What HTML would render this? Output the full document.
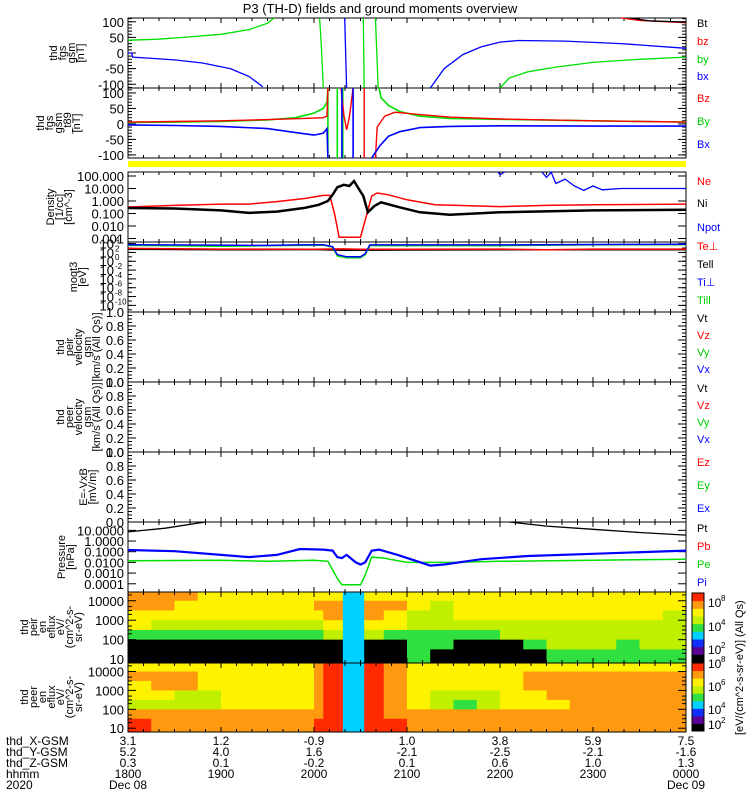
<!DOCTYPE html>
<html><head><meta charset="utf-8">
<style>
html,body{margin:0;padding:0;background:#fff;}
svg{display:block;font-family:"Liberation Sans",sans-serif;}
</style></head>
<body>
<svg id="chart" width="750" height="800" viewBox="0 0 750 800"></svg>
<script>
// ---------- DATA ----------
const hourTicks = [18,19,20,21,22,23,24];
const xgsmLabels = ["3.1","1.2","-0.9","1.0","3.8","5.9","7.5"];
const ygsmLabels = ["5.2","4.0","1.6","-2.1","-2.5","-2.1","-1.6"];
const zgsmLabels = ["0.3","0.1","-0.2","0.1","0.6","1.0","1.3"];
const hhmmLabels = ["1800","1900","2000","2100","2200","2300","0000"];
// panel 1 fgs gsm [nT]
const fgsBy = [[[18,41],[18.3,44],[18.6,50],[19,60],[19.3,75],[19.5,95],[19.57,112]],[[20.06,112],[20.08,20],[20.1,-112]],[[20.53,112],[20.54,-112]],[[20.66,112],[20.69,-112]],[[22.0,-112],[22.1,-80],[22.3,-60],[22.6,-45],[23,-30],[23.5,-20],[24,-13]]];
const fgsBx = [[[18,0],[18.04,0],[18.05,-13],[18.5,-22],[18.8,-32],[19.1,-50],[19.3,-75],[19.45,-108]],[[20.33,112],[20.35,-112]],[[21.25,-112],[21.4,-50],[21.6,-5],[21.8,20],[22.0,35],[22.2,40],[22.7,38],[23.3,30],[24,15]]];
const fgsBz = [[[23.3,112],[23.5,104],[24,97]]];
const fgsBt = [[[23.4,112],[23.6,103],[24,99]]];
// panel 2 fgs-t89 [nT]
const t89By = [[[18,5],[18.5,6],[19,8],[19.5,13],[19.8,20],[20.0,35],[20.1,50],[20.14,70],[20.15,116],[20.15,-110]],[[20.25,-110],[20.25,116]],[[20.31,-110],[20.31,116]],[[20.70,116],[20.72,85],[20.8,60],[20.92,40],[21.14,25],[21.46,18],[22,15],[23,10],[24,6]]];
const t89Bz = [[[18,6],[18.5,8],[19,10],[19.5,14],[19.9,18],[20.1,20],[20.14,25],[20.15,116]],[[20.29,116],[20.32,30],[20.35,-19],[20.38,20],[20.42,116]],[[20.54,116],[20.54,-110]],[[20.66,-110],[20.68,-10],[20.76,25],[20.87,38],[21.14,30],[21.46,22],[22,16],[23,10],[24,6]]];
const t89Bx = [[[18,-3],[18.5,-5],[19,-8],[19.5,-15],[19.8,-28],[20.0,-36],[20.1,-30],[20.14,-15],[20.15,-110]],[[20.30,116],[20.30,-110]],[[20.42,116],[20.42,-110]],[[20.62,-110],[20.71,-70],[20.8,-40],[20.92,-25],[21.14,-12],[21.46,-8],[22,-6],[23,-7],[24,-7]]];
// density log10 [cm^-3]
const densNi = [[[18,-0.56],[18.5,-0.6],[19,-0.75],[19.3,-0.95],[19.6,-0.85],[19.9,-0.55],[20.05,-0.3],[20.15,0.0],[20.2,0.5],[20.25,1.1],[20.32,1.3],[20.38,1.2],[20.43,1.6],[20.48,1.0],[20.53,0.4],[20.58,-0.9],[20.65,-0.4],[20.72,-0.1],[20.92,-0.5],[21.14,-0.9],[21.46,-1.1],[22,-0.9],[23,-0.75],[24,-0.7]]];
const densNe = [[[18,-0.48],[18.5,-0.35],[19,-0.25],[19.3,-0.25],[19.6,-0.05],[19.9,0.2],[20.1,0.45],[20.17,0.45],[20.22,-1],[20.27,-2.9],[20.5,-2.9],[20.57,-1],[20.62,0.4],[20.68,0.64],[20.8,0.5],[21,0.1],[21.3,-0.3],[22,-0.45],[22.5,-0.35],[23,-0.3],[24,-0.25]]];
const densNpot = [[[21.98,2.32],[22.0,2.1],[22.05,2.32]],[[22.45,2.32],[22.5,1.9],[22.55,2.3],[22.6,1.4],[22.7,1.75],[22.8,1.2],[22.9,0.85],[23.0,1.2],[23.1,0.9],[23.3,1.0],[24,1.0]]];
// temperature log10 [eV]
const tempTiPerp = [[[18,3.75],[19,3.65],[19.5,3.6],[19.8,3.7],[20.1,3.75],[20.2,3.3],[20.25,1.5],[20.35,1.0],[20.5,1.0],[20.55,1.7],[20.6,3.7],[22,3.7],[23,3.8],[24,3.85]]];
const tempTiPar = [[[18,3.6],[19,3.4],[19.5,3.5],[20.1,3.65],[20.2,3.2],[20.25,1.2],[20.35,0.8],[20.5,0.8],[20.55,1.5],[20.6,3.55],[22,3.55],[23,3.7],[24,3.75]]];
const tempTePerp = [[[18,2.9],[19,2.75],[20,2.7],[20.3,2.8],[20.5,2.7],[21,2.7],[22,2.75],[22.5,2.6],[23,2.75],[24,2.75]]];
const tempTePar = [[[18,2.7],[19,2.6],[20,2.65],[20.3,2.5],[21,2.55],[22,2.6],[24,2.6]]];
// pressure log10 [nPa]
const presPt = [[[18,0.85],[18.4,1.2],[18.83,1.78]],[[22.1,1.78],[22.5,1.4],[23,1.1],[23.5,0.8],[24,0.55]]];
const presPi = [[[18,-0.84],[18.5,-0.95],[19,-1.3],[19.3,-1.5],[19.6,-1.3],[19.85,-0.75],[20.1,-0.8],[20.2,-0.9],[20.25,-1.5],[20.3,-1.6],[20.35,-1.3],[20.45,-2],[20.5,-2.2],[20.55,-2.0],[20.62,-0.9],[20.7,-0.8],[20.9,-1.3],[21.25,-2.3],[21.4,-2.2],[21.8,-1.7],[22.3,-1.4],[23,-1.2],[24,-0.9]]];
const presPe = [[[18,-1.85],[19,-1.8],[19.5,-1.9],[20,-1.8],[20.15,-1.9],[20.25,-3.5],[20.3,-4.1],[20.5,-4.1],[20.55,-3.2],[20.62,-1.5],[20.75,-1.6],[21,-2.0],[21.5,-2.0],[22,-1.9],[23,-1.8],[24,-1.7]]];
// spectrograms: time bin edges (hours), energy row edges (log10 eV), levels 0..8
const specTimeEdges = [18,18.25,18.5,18.75,19,19.25,19.5,19.75,20,20.1,20.31,20.54,20.75,21,21.25,21.5,21.75,22,22.25,22.5,22.75,23,23.25,23.5,23.75,24];
const specEnergyEdges = [4.45,4,3.5,3,2.5,2,1.5,0.8];
const ionSpec = [
 [7,7,7,6,6,6,6,6,6,6,3,6,6,6,6,6,6,6,6,6,6,6,6,6,6],
 [7,7,6,6,6,6,6,6,7,7,3,7,7,6,5,6,6,6,6,6,6,6,6,6,6],
 [6,6,6,6,6,6,6,6,6,7,3,7,6,5,5,6,6,6,6,6,6,6,6,6,5],
 [6,5,5,5,5,5,5,5,5,6,3,6,6,5,5,5,5,5,5,5,5,5,5,5,5],
 [4,4,4,4,4,4,4,4,4,5,3,5,4,4,4,4,4,5,5,5,5,5,5,5,5],
 [0,0,0,0,0,0,0,0,0,0,3,0,0,4,4,0,0,0,4,5,5,5,4,5,5],
 [0,0,0,0,0,0,0,0,0,0,3,0,0,4,0,0,0,0,0,4,4,4,4,4,4]];
const eleSpec = [
 [6,6,6,6,6,6,6,6,7,8,3,8,7,6,6,6,6,6,6,6,6,6,6,6,6],
 [7,7,7,6,6,6,6,6,7,8,3,8,7,6,6,6,6,6,7,7,7,7,7,7,7],
 [6,7,7,6,6,6,6,6,7,8,3,8,7,6,6,6,6,6,7,7,7,7,7,7,7],
 [6,6,5,5,6,6,6,6,7,8,3,8,7,6,5,5,5,6,6,7,7,7,7,7,7],
 [5,5,5,5,6,6,6,6,7,8,3,8,7,6,5,4,5,6,6,6,7,7,7,7,7],
 [7,7,7,7,7,7,7,7,7,8,3,8,7,7,7,7,7,7,7,7,7,7,7,7,7],
 [8,7,7,7,7,7,7,7,8,8,3,8,8,7,7,7,7,7,7,7,7,7,7,7,7]];
const levelColors = ["#000000","#5a0096","#1030ff","#00d0ff","#30e040","#c0f000","#fff200","#ff9a10","#ff2a00"];

// ---------- HELPERS ----------
const NS="http://www.w3.org/2000/svg";
const svg=document.getElementById('chart');
const X0=128,X1=686;
function xs(h){return X0+(h-18)*(X1-X0)/6;}
function mk(tag,attrs,parent){const e=document.createElementNS(NS,tag);for(const k in attrs)e.setAttribute(k,attrs[k]);(parent||svg).appendChild(e);return e;}
function txt(x,y,s,attrs,parent){const t=mk('text',Object.assign({x:x,y:y,'font-size':12},attrs||{}),parent);t.textContent=s;return t;}
function lin(y0,y1,d0,d1){return v=>y0+(v-d0)*(y1-y0)/(d1-d0);}

const panels=[
 {name:'fgs-panel',top:18,bot:88},
 {name:'fgs-t89-panel',top:88,bot:158},
 {name:'density-panel',top:172,bot:242},
 {name:'temperature-panel',top:242,bot:312},
 {name:'ion-velocity-panel',top:312,bot:382},
 {name:'electron-velocity-panel',top:382,bot:452},
 {name:'efield-panel',top:452,bot:522},
 {name:'pressure-panel',top:522,bot:592},
 {name:'ion-spectrogram-panel',top:592,bot:663},
 {name:'electron-spectrogram-panel',top:663,bot:732}];

let t=txt(380,13,"P3 (TH-D) fields and ground moments overview",{'text-anchor':'middle','font-size':13});



let yb=mk('rect',{x:X0,y:161,width:X1-X0,height:6,fill:'#ffff00'});



function drawSpec(mat,ymap,name){
  const g=mk('g',{});
  
  
  for(let r=0;r<mat.length;r++){
    for(let c=0;c<mat[r].length;c++){
      const xa=xs(specTimeEdges[c]),xb=xs(specTimeEdges[c+1]);
      const ya=ymap(specEnergyEdges[r]),yb2=ymap(specEnergyEdges[r+1]);
      const rc=mk('rect',{x:xa,y:ya,width:xb-xa+0.5,height:yb2-ya+0.5,fill:levelColors[mat[r][c]]},g);
      
      
    }
  }
}
const ionY=lin(592,663,4.45,0.8), eleY=lin(663,732,4.45,0.8);
drawSpec(ionSpec,v=>Math.max(592,Math.min(663,ionY(v))),'ion-spectrogram');
drawSpec(eleSpec,v=>Math.max(663,Math.min(732,eleY(v))),'electron-spectrogram');

panels.forEach(p=>{
  const r=mk('rect',{x:X0,y:p.top,width:X1-X0,height:p.bot-p.top,fill:'none',stroke:'#000','stroke-width':1});
  
  
  for(let m=0;m<=36;m++){
    const x=xs(18+m/6), L=(m%6===0)?5:3;
    mk('line',{x1:x,y1:p.top,x2:x,y2:p.top+L,stroke:'#000'});
    mk('line',{x1:x,y1:p.bot,x2:x,y2:p.bot-L,stroke:'#000'});
  }
});

function yTicks(p,ys,labels,minor){
  ys.forEach((y,i)=>{
    mk('line',{x1:X0,y1:y,x2:X0+8,y2:y,stroke:'#000'});
    mk('line',{x1:X1,y1:y,x2:X1-8,y2:y,stroke:'#000'});
    const l=txt(124,y+5,labels[i],{'text-anchor':'end','font-size':13});
    
    
  });
  (minor||[]).forEach(y=>{
    mk('line',{x1:X0,y1:y,x2:X0+4,y2:y,stroke:'#000'});
    mk('line',{x1:X1,y1:y,x2:X1-4,y2:y,stroke:'#000'});
  });
}
function range(a,b,s){const r=[];for(let v=a;v<=b+1e-9;v+=s)r.push(v);return r;}

const y1=lin(18,88,112,-112);
yTicks(0,[100,50,0,-50,-100].map(y1),["100","50","0","-50","-100"],range(-110,110,10).map(y1));
const y2=lin(88,158,116,-110);
yTicks(1,[100,50,0,-50,-100].map(y2),["100","50","0","-50","-100"],range(-110,110,10).map(y2));
const y3=lin(172,242,2.32,-3.28);
yTicks(2,[2,1,0,-1,-2,-3].map(y3),["100.000","10.000","1.000","0.100","0.010","0.001"]);
const y4=lin(242,312,4.36,-11.5);
[4,2,0,-2,-4,-6,-8,-10].forEach(e=>{
  const y=y4(e);
  mk('line',{x1:X0,y1:y,x2:X0+8,y2:y,stroke:'#000'});
  mk('line',{x1:X1,y1:y,x2:X1-8,y2:y,stroke:'#000'});
  const l=txt(114,y+5,"10",{'text-anchor':'end','font-size':13});
  
  
  const s=txt(115,y-1,String(e),{'font-size':8});
  
  
});
range(-11,4,1).forEach(e=>{const y=y4(e);mk('line',{x1:X0,y1:y,x2:X0+4,y2:y,stroke:'#000'});mk('line',{x1:X1,y1:y,x2:X1-4,y2:y,stroke:'#000'});});
[[312,382],[382,452],[452,522]].forEach(([a,b])=>{
  const yv=lin(a,b,1,0);
  yTicks(0,[1,0.8,0.6,0.4,0.2,0].map(yv),["1.0","0.8","0.6","0.4","0.2","0.0"],range(0,1,0.05).map(yv));
});
const y8=lin(522,592,1.78,-4.77);
yTicks(0,[1,0,-1,-2,-3,-4].map(y8),["10.0000","1.0000","0.1000","0.0100","0.0010","0.0001"]);
yTicks(0,[4,3,2,1].map(ionY),["10000","1000","100","10"],[4.3,3.7,3.5,3.3,2.7,2.5,2.3,1.7,1.5,1.3].map(ionY));
yTicks(0,[4,3,2,1].map(eleY),["10000","1000","100","10"],[4.3,3.7,3.5,3.3,2.7,2.5,2.3,1.7,1.5,1.3].map(eleY));

function series(segs,ymap,top,bot,color,name,w){
  const g=mk('g',{});
  
  
  segs.forEach(seg=>{
    const pts=seg.map(([h,v])=>xs(h).toFixed(1)+','+Math.max(top,Math.min(bot,ymap(v))).toFixed(1)).join(' ');
    const pl=mk('polyline',{points:pts,fill:'none',stroke:color,'stroke-width':w||1.3},g);
    
    
  });
}
series(fgsBy,y1,18,88,'#00e000','fgs-by');
series(fgsBx,y1,18,88,'#0000ff','fgs-bx');
series(fgsBz,y1,18,88,'#ff0000','fgs-bz');
series(fgsBt,y1,18,88,'#000000','fgs-bt');
series(t89By,y2,88,158,'#00e000','t89-by',1.6);
series(t89Bz,y2,88,158,'#ff0000','t89-bz',1.4);
series(t89Bx,y2,88,158,'#0000ff','t89-bx',1.6);
series(densNpot,y3,172,242,'#0000ff','density-npot');
series(densNe,y3,172,242,'#ff0000','density-ne',1.5);
series(densNi,y3,172,242,'#000000','density-ni',2.5);
series(tempTePar,y4,242,312,'#000000','temp-tepar',1.5);
series(tempTePerp,y4,242,312,'#ff0000','temp-teperp',1.5);
series(tempTiPar,y4,242,312,'#00e000','temp-tipar',1.5);
series(tempTiPerp,y4,242,312,'#0000ff','temp-tiperp',1.5);
series(presPt,y8,522,592,'#000000','pressure-pt',1.3);
series(presPe,y8,522,592,'#00e000','pressure-pe',1.5);
series(presPi,y8,522,592,'#0000ff','pressure-pi',2.2);

const legends=[["Bt","#000",23],["bz","#f00",41],["by","#0c0",59],["bx","#00f",76],
["Bz","#f00",98],["By","#0c0",121],["Bx","#00f",144],
["Ne","#f00",181],["Ni","#000",203],["Npot","#00f",227],
["Te⊥","#f00",246],["Tell","#000",264],["Ti⊥","#00f",282],["Till","#0c0",300],
["Vt","#000",318],["Vz","#f00",335],["Vy","#0c0",352],["Vx","#00f",369],
["Vt","#000",388],["Vz","#f00",405],["Vy","#0c0",422],["Vx","#00f",439],
["Ez","#f00",462],["Ey","#0c0",485],["Ex","#00f",508],
["Pt","#000",528],["Pb","#f00",546],["Pe","#0c0",564],["Pi","#00f",582]];
legends.forEach(([s,c,y])=>{
  const l=txt(697,y+4,s,{fill:c,'font-size':11});
  
  
});

function colorbar(top,bot,labels,name){
  const g=mk('g',{});
  
  
  const n=levelColors.length, h=(bot-top)/n;
  for(let i=0;i<n;i++) mk('rect',{x:692,y:bot-(i+1)*h,width:12,height:h+0.5,fill:levelColors[i]},g);
  mk('rect',{x:692,y:top,width:12,height:bot-top,fill:'none',stroke:'#000'},g);
  labels.forEach(([e,y])=>{
    txt(708,y+4,"10",{'font-size':12},g);
    txt(721,y-2,String(e),{'font-size':8},g);
  });
}
colorbar(593,662,[[8,603],[4,627],[2,650]],'ion-colorbar');
colorbar(663,731,[[8,664],[6,687],[4,710],[2,725]],'electron-colorbar');
let cbt=txt(0,0,"[eV/(cm^2-s-sr-eV)] (All Qs)",{'font-size':11,transform:'translate(743,735) rotate(-90)'});



const ytitles=[
 [["thd","fgs","gsm","[nT]"],53,84],
 [["thd","fgs","gsm","_t89","[nT]"],123,80],
 [["Density","[1/cc]","[cm^-3]"],207,72],
 [["moqt3","[eV]"],277,86],
 [["thd","peir","velocity","gsm","[km/s (All Qs)]"],347,100],
 [["thd","peer","velocity","gsm","[km/s (All Qs)]"],417,100],
 [["E=-VxB","[mV/m]"],487,96],
 [["Pressure","[nPa]"],557,74],
 [["thd","peir","en","eflux","eV/","(cm^2-s-","sr-eV)"],627,82],
 [["thd","peer","en","eflux","eV/","(cm^2-s-","sr-eV)"],697,82]];
ytitles.forEach(([lines,cy,xr],i)=>{
  const g=mk('g',{});
  
  
  lines.forEach((s,j)=>{
    const x=xr-(lines.length-1-j)*9;
    txt(0,0,s,{'font-size':11,'text-anchor':'middle',transform:`translate(${x},${cy}) rotate(-90)`},g);
  });
});

const rowsY=[745,756,767,778,789];
const rowNames=["thd_X-GSM","thd_Y-GSM","thd_Z-GSM","hhmm","2020"];
rowNames.forEach((s,i)=>{const l=txt(6,rowsY[i],s,{'font-size':12});});
[xgsmLabels,ygsmLabels,zgsmLabels,hhmmLabels].forEach((arr,r)=>{
  arr.forEach((s,i)=>{
    const l=txt(xs(hourTicks[i]),rowsY[r],s,{'font-size':12,'text-anchor':'middle'});
    
    
  });
});
let d1=txt(xs(18),789,"Dec 08",{'font-size':12,'text-anchor':'middle'});


let d2=txt(xs(24),789,"Dec 09",{'font-size':12,'text-anchor':'middle'});


</script>
</body></html>
